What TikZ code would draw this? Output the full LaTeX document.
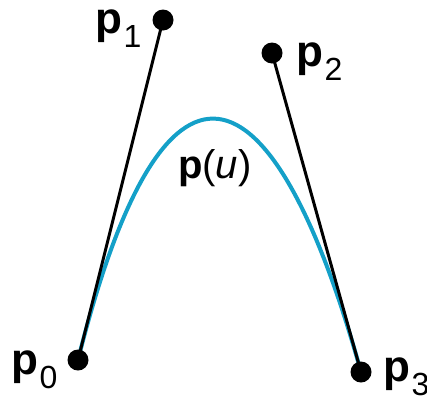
\documentclass[tikz,border=0pt]{standalone}
\usepackage{fontspec}
\setmainfont{Liberation Sans}
\definecolor{curvecol}{RGB}{20,160,200}
\tikzset{
  pt/.style={circle,fill=black,inner sep=0pt,minimum size=21pt},
  lab/.style={inner sep=0pt,anchor=base west,font=\fontsize{44}{44}\selectfont},
  ctrl/.style={line width=3pt,black},
  bez/.style={line width=4pt,curvecol}
}
\newcommand{\lbl}[1]{\textbf{p}\hspace{1.5pt}\raisebox{-14pt}{\fontsize{32}{32}\selectfont #1}}
\begin{document}
\begin{tikzpicture}[x=1pt,y=-1pt]
\useasboundingbox (0,0) rectangle (427,402);
\coordinate (c0) at (78,360);
\coordinate (c1) at (163,20);
\coordinate (c2) at (272,53);
\coordinate (c3) at (361,372);
\draw[bez] (c0) .. controls (c1) and (c2) .. (c3);
\draw[ctrl] (c0) -- (c1);
\draw[ctrl] (c2) -- (c3);
\node[pt] (p0) at (c0) {};
\node[pt] (p1) at (c1) {};
\node[pt] (p2) at (c2) {};
\node[pt] (p3) at (c3) {};
\node[lab] (l1) at (95,33) {\lbl{1}};
\node[lab] (l2) at (296,66) {\lbl{2}};
\node[lab] (l0) at (11,374) {\lbl{0}};
\node[lab] (l3) at (383,381) {\lbl{3}};
\node[lab,font=\fontsize{40}{40}\selectfont] (lu) at (178,178) {\textbf{p}(\textit{u})};
\end{tikzpicture}
\end{document}
